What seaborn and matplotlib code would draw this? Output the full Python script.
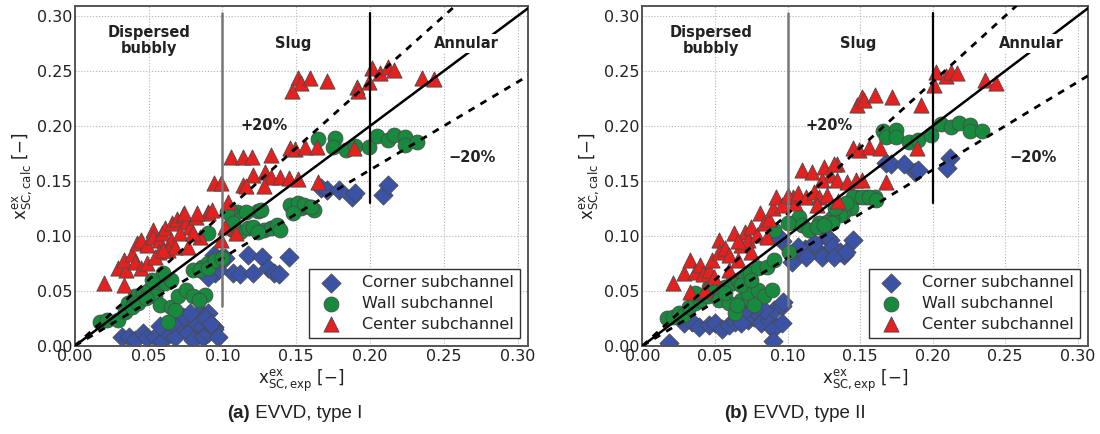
import numpy as np
import pandas as pd
import matplotlib
matplotlib.use("Agg")
import matplotlib.pyplot as plt
import seaborn as sns

# --------------------------
# Data
# --------------------------
kinds = ["Corner subchannel", "Wall subchannel", "Center subchannel"]
captions = [("(a)", " EVVD, type I"), ("(b)", " EVVD, type II")]
ticks = [0.00, 0.05, 0.10, 0.15, 0.20, 0.25, 0.30]

# (a) EVVD, type I
a_corner_x = [0.167, 0.171, 0.179, 0.188, 0.190, 0.209, 0.212, 0.094, 0.099, 0.117, 0.127, 0.145,
              0.088, 0.095, 0.107, 0.112, 0.121, 0.131, 0.135, 0.138, 0.085, 0.090, 0.094, 0.088,
              0.032, 0.037, 0.041, 0.046, 0.049, 0.054, 0.059, 0.063, 0.068, 0.073, 0.077, 0.080,
              0.082, 0.086, 0.087, 0.090, 0.094, 0.097, 0.073, 0.066, 0.097, 0.090, 0.102,
              0.058, 0.078, 0.088, 0.092]
a_corner_y = [0.144, 0.142, 0.142, 0.135, 0.139, 0.137, 0.146, 0.083, 0.080, 0.083, 0.081, 0.081,
              0.067, 0.066, 0.066, 0.065, 0.066, 0.071, 0.066, 0.065, 0.031, 0.030, 0.017, 0.010,
              0.008, 0.008, 0.005, 0.012, 0.007, 0.008, 0.004, 0.012, 0.008, 0.017, 0.012, 0.005,
              0.021, 0.017, 0.008, 0.012, 0.015, 0.008, 0.026, 0.021, 0.069, 0.063, 0.080,
              0.018, 0.030, 0.025, 0.020]

a_wall_x = [0.165, 0.176, 0.175, 0.184, 0.190, 0.199, 0.205, 0.212, 0.216, 0.224, 0.224, 0.232,
            0.110, 0.124, 0.148, 0.153, 0.159, 0.162, 0.105,
            0.116, 0.126, 0.146, 0.151, 0.155, 0.160, 0.148,
            0.107, 0.112, 0.117, 0.121, 0.128, 0.133, 0.137, 0.139, 0.124,
            0.086, 0.090, 0.094, 0.088,
            0.017, 0.022, 0.029, 0.034, 0.036, 0.039, 0.041, 0.046, 0.050, 0.056,
            0.061, 0.065, 0.060, 0.052, 0.054, 0.058, 0.065, 0.068, 0.063, 0.070,
            0.075, 0.080, 0.084, 0.080, 0.085, 0.090, 0.095, 0.100, 0.090, 0.103,
            0.107, 0.043, 0.048]
a_wall_y = [0.188, 0.189, 0.181, 0.178, 0.182, 0.181, 0.191, 0.187, 0.192, 0.190, 0.183, 0.185,
            0.122, 0.123, 0.126, 0.125, 0.126, 0.124, 0.124,
            0.122, 0.124, 0.128, 0.130, 0.128, 0.126, 0.121,
            0.105, 0.104, 0.107, 0.108, 0.105, 0.107, 0.110, 0.105, 0.104,
            0.072, 0.075, 0.076, 0.046,
            0.022, 0.024, 0.024, 0.031, 0.039, 0.035, 0.045, 0.048, 0.051, 0.054,
            0.057, 0.060, 0.066, 0.060, 0.045, 0.037, 0.035, 0.033, 0.022, 0.045,
            0.051, 0.045, 0.042, 0.069, 0.069, 0.071, 0.078, 0.080, 0.103, 0.122,
            0.112, 0.039, 0.044]

a_center_x = [0.151, 0.153, 0.147, 0.159, 0.171, 0.191, 0.192, 0.199, 0.201, 0.207, 0.212, 0.216, 0.235, 0.243,
              0.106, 0.114, 0.120, 0.133, 0.146, 0.149, 0.156, 0.164, 0.189,
              0.094, 0.099, 0.114, 0.121, 0.129, 0.133, 0.139, 0.145, 0.151, 0.128, 0.116,
              0.104, 0.090, 0.102, 0.099, 0.109, 0.165,
              0.020, 0.033, 0.029, 0.035, 0.033, 0.039, 0.041, 0.045, 0.049, 0.042,
              0.045, 0.049, 0.053, 0.053, 0.057, 0.059, 0.061, 0.065, 0.063, 0.068,
              0.066, 0.069, 0.073, 0.075, 0.078, 0.082, 0.085, 0.090, 0.093, 0.077,
              0.057, 0.054, 0.060, 0.071, 0.080, 0.074, 0.083]
a_center_y = [0.244, 0.239, 0.232, 0.244, 0.241, 0.235, 0.232, 0.240, 0.253, 0.248, 0.254, 0.251, 0.244, 0.243,
              0.172, 0.172, 0.172, 0.174, 0.180, 0.179, 0.181, 0.181, 0.180,
              0.148, 0.148, 0.146, 0.155, 0.158, 0.154, 0.154, 0.153, 0.152, 0.145, 0.145,
              0.131, 0.122, 0.108, 0.096, 0.103, 0.149,
              0.057, 0.055, 0.071, 0.069, 0.078, 0.084, 0.076, 0.071, 0.075, 0.094,
              0.096, 0.092, 0.105, 0.099, 0.096, 0.103, 0.107, 0.096, 0.087, 0.090,
              0.112, 0.115, 0.119, 0.113, 0.108, 0.117, 0.099, 0.121, 0.124, 0.090,
              0.085, 0.081, 0.087, 0.103, 0.103, 0.121, 0.121]

# (b) EVVD, type II
b_corner_x = [0.168, 0.171, 0.180, 0.188, 0.190, 0.212, 0.210,
              0.145, 0.127, 0.129, 0.131, 0.136, 0.139, 0.122, 0.124, 0.132,
              0.018, 0.029, 0.034, 0.039, 0.046, 0.050, 0.055, 0.060, 0.064, 0.068,
              0.073, 0.077, 0.082, 0.087, 0.091, 0.096, 0.097, 0.084, 0.077, 0.075,
              0.071, 0.068, 0.090, 0.096, 0.090, 0.105, 0.096, 0.094, 0.103, 0.108,
              0.066, 0.112, 0.118, 0.113, 0.107, 0.140]
b_corner_y = [0.166, 0.165, 0.165, 0.158, 0.160, 0.171, 0.162,
              0.096, 0.099, 0.096, 0.090, 0.085, 0.083, 0.085, 0.081, 0.081,
              0.003, 0.021, 0.022, 0.017, 0.019, 0.021, 0.015, 0.019, 0.022, 0.026,
              0.024, 0.026, 0.021, 0.024, 0.033, 0.036, 0.040, 0.033, 0.033, 0.037,
              0.033, 0.021, 0.015, 0.021, 0.004, 0.085, 0.095, 0.099, 0.076, 0.087,
              0.037, 0.088, 0.094, 0.081, 0.090, 0.085]

b_wall_x = [0.166, 0.168, 0.175, 0.175, 0.184, 0.190, 0.199, 0.206, 0.213, 0.218, 0.226, 0.226, 0.234,
            0.148, 0.154, 0.160, 0.145, 0.151, 0.156, 0.161, 0.144, 0.138, 0.136, 0.131, 0.127, 0.122, 0.131,
            0.017, 0.021, 0.025, 0.029, 0.032, 0.036, 0.040, 0.045, 0.048, 0.053,
            0.057, 0.062, 0.066, 0.071, 0.074, 0.080, 0.086, 0.091, 0.101, 0.105,
            0.108, 0.036, 0.046, 0.053, 0.060, 0.064, 0.068, 0.073, 0.080, 0.084,
            0.089, 0.077, 0.057, 0.065, 0.091, 0.068, 0.075,
            0.110, 0.115, 0.120, 0.125, 0.100, 0.133, 0.140]
b_wall_y = [0.195, 0.190, 0.196, 0.190, 0.185, 0.187, 0.192, 0.202, 0.199, 0.203, 0.201, 0.195, 0.195,
            0.135, 0.135, 0.135, 0.135, 0.135, 0.135, 0.133, 0.125, 0.121, 0.119, 0.116, 0.113, 0.112, 0.112,
            0.025, 0.026, 0.030, 0.028, 0.035, 0.039, 0.042, 0.045, 0.048, 0.051,
            0.054, 0.057, 0.060, 0.063, 0.066, 0.071, 0.072, 0.078, 0.085, 0.113,
            0.117, 0.048, 0.054, 0.042, 0.039, 0.030, 0.042, 0.048, 0.051, 0.045,
            0.051, 0.037, 0.048, 0.037, 0.105, 0.055, 0.060,
            0.110, 0.105, 0.108, 0.110, 0.112, 0.125, 0.130]

b_center_x = [0.148, 0.151, 0.153, 0.160, 0.172, 0.192, 0.201, 0.202, 0.209, 0.213, 0.217, 0.236, 0.244,
              0.145, 0.149, 0.156, 0.164, 0.189, 0.168, 0.134, 0.129, 0.134, 0.141, 0.147, 0.151, 0.124,
              0.021, 0.029, 0.033, 0.036, 0.040, 0.042, 0.046, 0.048, 0.053, 0.053,
              0.057, 0.060, 0.063, 0.066, 0.068, 0.071, 0.073, 0.075, 0.079, 0.081,
              0.084, 0.086, 0.087, 0.090, 0.092, 0.096, 0.104, 0.105, 0.033, 0.043,
              0.049, 0.060, 0.066, 0.075,
              0.100, 0.107, 0.113, 0.118, 0.122, 0.127, 0.110, 0.117, 0.125, 0.132, 0.120, 0.135]
b_center_y = [0.219, 0.226, 0.224, 0.228, 0.226, 0.219, 0.237, 0.249, 0.245, 0.249, 0.248, 0.242, 0.239,
              0.180, 0.178, 0.181, 0.180, 0.180, 0.149, 0.165, 0.155, 0.151, 0.149, 0.151, 0.151, 0.151,
              0.057, 0.066, 0.078, 0.067, 0.074, 0.065, 0.069, 0.078, 0.096, 0.085,
              0.089, 0.083, 0.103, 0.078, 0.092, 0.104, 0.096, 0.108, 0.101, 0.121,
              0.112, 0.099, 0.115, 0.125, 0.135, 0.128, 0.135, 0.130, 0.049, 0.051,
              0.063, 0.069, 0.095, 0.085,
              0.137, 0.139, 0.135, 0.140, 0.135, 0.137, 0.160, 0.158, 0.163, 0.165, 0.128, 0.132]

# --------------------------
# Build long table
# --------------------------
def panel_frame(cx, cy, wx, wy, tx, ty):
    parts = []
    for k, xs, ys in zip(kinds, [cx, wx, tx], [cy, wy, ty]):
        parts.append(pd.DataFrame({"x": xs, "y": ys, "kind": k}))
    return pd.concat(parts, ignore_index=True)

frames = [
    panel_frame(a_corner_x, a_corner_y, a_wall_x, a_wall_y, a_center_x, a_center_y),
    panel_frame(b_corner_x, b_corner_y, b_wall_x, b_wall_y, b_center_x, b_center_y),
]

palette = {"Corner subchannel": "#3a53a6", "Wall subchannel": "#178a3d", "Center subchannel": "#e5201e"}
markers = {"Corner subchannel": "D", "Wall subchannel": "o", "Center subchannel": "^"}
sizes = {"Corner subchannel": 95, "Wall subchannel": 115, "Center subchannel": 120}

# --------------------------
# Style
# --------------------------
sns.set_style("whitegrid", {"grid.linestyle": ":", "grid.color": "#b5b5b5",
                            "axes.edgecolor": "#555555"})
plt.rcParams["font.family"] = ["DejaVu Sans"]

fig = plt.figure(figsize=(11, 4.34), dpi=100)
axes = [fig.add_axes([0.068, 0.203, 0.412, 0.783]),
        fig.add_axes([0.584, 0.203, 0.405, 0.783])]

lim_x, lim_y = 0.307, 0.309
label_pos = [
    {"disp": 0.050, "slug": 0.148, "ann": 0.265, "plus": 0.128, "minus": 0.269},
    {"disp": 0.047, "slug": 0.149, "ann": 0.268, "plus": 0.129, "minus": 0.269},
]
minus = "\u2212"

for ax, df, pos, cap, cap_x in zip(axes, frames, label_pos, captions, [0.227, 0.680]):
    for k in kinds:
        sub = df[df["kind"] == k]
        sns.scatterplot(data=sub, x="x", y="y", ax=ax, color=palette[k], marker=markers[k],
                        s=sizes[k], edgecolor="#4a4a4a", linewidth=0.6, label=k, zorder=2)

    xs = np.array([0.0, 0.32])
    ax.plot(xs, xs, color="black", lw=1.8, zorder=3)
    ax.plot(xs, 1.2 * xs, color="black", lw=2, ls=(0, (2.5, 2.5)), zorder=3)
    ax.plot(xs, 0.8 * xs, color="black", lw=2, ls=(0, (2.5, 2.5)), zorder=3)
    ax.plot([0.1, 0.1], [0.036, 0.303], color="#777777", lw=1.8, zorder=3)
    ax.plot([0.2, 0.2], [0.130, 0.303], color="black", lw=1.6, zorder=3)

    box = dict(facecolor="white", edgecolor="none", pad=1.5)
    tkw = dict(fontsize=10.5, fontweight="bold", color="#222222", ha="center", va="center", zorder=4)
    ax.text(pos["disp"], 0.278, "Dispersed\nbubbly", linespacing=1.1, **tkw)
    ax.text(pos["slug"], 0.275, "Slug", bbox=box, **tkw)
    ax.text(pos["ann"], 0.275, "Annular", bbox=box, **tkw)
    ax.text(pos["plus"], 0.200, "+20%", **tkw)
    ax.text(pos["minus"], 0.171, minus + "20%", **tkw)

    ax.set_xlim(0, lim_x)
    ax.set_ylim(0, lim_y)
    ax.set_xticks(ticks)
    ax.set_yticks(ticks)
    ax.set_xticklabels([f"{t:.2f}" for t in ticks])
    ax.set_yticklabels([f"{t:.2f}" for t in ticks])
    ax.tick_params(labelsize=11.5, colors="#222222", length=0, pad=2)
    for sp in ax.spines.values():
        sp.set_linewidth(1.4)
        sp.set_color("#555555")
    ax.set_xlabel(r"$\mathregular{x^{ex}_{SC,exp}}$ [" + minus + "]", fontsize=12,
                  color="#222222", labelpad=3)
    ax.set_ylabel(r"$\mathregular{x^{ex}_{SC,calc}}$ [" + minus + "]", fontsize=12,
                  color="#222222", labelpad=2)

    leg = ax.legend(loc="lower right", fontsize=11.5, frameon=True, fancybox=False,
                    edgecolor="#333333", framealpha=1, borderaxespad=0.5,
                    handletextpad=0.9, borderpad=0.4, labelspacing=0.35, markerscale=1.0)
    leg.get_frame().set_linewidth(1.0)
    for t in leg.get_texts():
        t.set_color("#222222")

    fig.text(cap_x, 0.048, cap[0], fontsize=13.5, fontweight="bold", ha="right", va="center",
             family=["Liberation Sans", "DejaVu Sans"], color="#222222")
    fig.text(cap_x, 0.048, cap[1], fontsize=13.5, ha="left", va="center",
             family=["Liberation Sans", "DejaVu Sans"], color="#222222")

fig.savefig("out.png", dpi=100)
